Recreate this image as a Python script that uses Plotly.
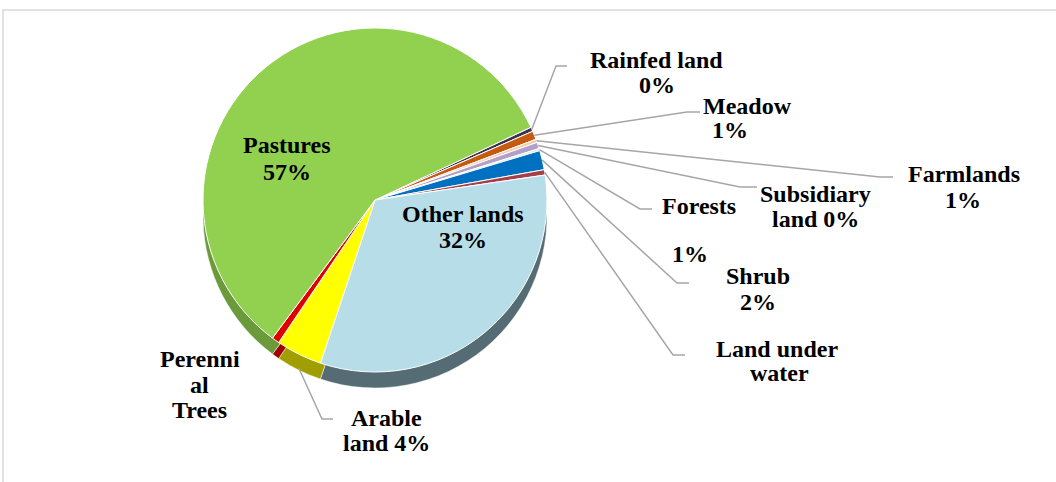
import math
import plotly.graph_objects as go

# ---------------- data ----------------
categories = ["Rainfed land", "Meadow", "Farmlands", "Subsidiary land", "Forests",
              "Shrub", "Land under water", "Other lands", "Arable land",
              "Perennial Trees", "Pastures"]
values = [0.4, 0.8, 0.3, 0.6, 0.2, 1.8, 0.5, 32.3, 4.3, 0.7, 57.6]
top_colors = ["#403151", "#C55A11", "#F8CBAD", "#B1A0C7", "#E7E6E6",
              "#0070C0", "#A5404A", "#B7DEE8", "#FFFF00", "#E00000", "#92D050"]
side_colors = ["#2A2036", "#8A3F0C", "#B08F7A", "#7C708C", "#A2A1A1",
               "#004E86", "#732D34", "#566C75", "#A09E00", "#A00000", "#6A9A3A"]

# label text lines (as shown in the chart)
label_lines = {
    "Rainfed land": ["Rainfed land", "0%"],
    "Meadow": ["Meadow", "1%"],
    "Farmlands": ["Farmlands", "1%"],
    "Subsidiary land": ["Subsidiary", "land 0%"],
    "Forests": ["Forests"],
    "extra": ["1%"],
    "Shrub": ["Shrub", "2%"],
    "Land under water": ["Land under", "water"],
    "Arable land": ["Arable", "land 4%"],
    "Perennial Trees": ["Perenni", "al", "Trees"],
    "Pastures": ["Pastures", "57%"],
    "Other lands": ["Other lands", "32%"],
}

# ---------------- layout / geometry ----------------
W, H = 1056, 482
CX, CY, R = 375, 200, 172
DEPTH = 16
ROT = 65

# label positions: per line (center x, baseline y)
label_pos = {
    "Rainfed land": [(656, 68), (657, 93)],
    "Meadow": [(747, 114), (730, 138)],
    "Farmlands": [(964, 182), (963, 208)],
    "Subsidiary land": [(815, 202), (815, 227)],
    "Forests": [(699, 214)],
    "extra": [(690, 262)],
    "Shrub": [(758, 284), (758, 310)],
    "Land under water": [(777, 357), (779, 381)],
    "Arable land": [(386, 426), (386, 451)],
    "Perennial Trees": [(200, 367), (199, 393), (199, 418)],
    "Pastures": [(287, 153), (287, 180)],
    "Other lands": [(463, 222), (463, 248)],
}
# leader lines: bend point and end x, and whether start on the side wall
leader_pos = {
    "Rainfed land": (556, 66, 567, False),
    "Meadow": (687, 112, 700, False),
    "Farmlands": (880, 177, 893, False),
    "Subsidiary land": (740, 187, 757, False),
    "Forests": (640, 209, 652, False),
    "Shrub": (677, 283, 689, False),
    "Land under water": (673, 355, 685, False),
    "Arable land": (322, 419, 333, True),
}


def pxx(x):
    return x / W


def pyy(y):
    return 1 - y / H


def dom(cy):
    return dict(x=[pxx(CX - R), pxx(CX + R)], y=[pyy(cy + R), pyy(cy - R)])


fig = go.Figure()
# side wall (thickness) of the 3D pie
fig.add_trace(go.Pie(labels=categories, values=values, sort=False, direction="clockwise",
                     rotation=ROT, textinfo="none", hoverinfo="skip",
                     marker=dict(colors=side_colors, line=dict(color="#FFFFFF", width=0.5)),
                     domain=dom(CY + DEPTH), showlegend=False))
# top face
fig.add_trace(go.Pie(labels=categories, values=values, sort=False, direction="clockwise",
                     rotation=ROT, textinfo="none", hoverinfo="label+percent",
                     marker=dict(colors=top_colors, line=dict(color="#FFFFFF", width=1)),
                     domain=dom(CY), showlegend=False))

total = sum(values)
cum = 0.0
mids = {}
for c, v in zip(categories, values):
    a = ROT + (cum + v / 2) / total * 360
    mids[c] = math.radians(a)
    cum += v

shapes = []
for name, (bx, by, ex, side) in leader_pos.items():
    a = mids[name]
    sx = CX + R * math.sin(a)
    sy = CY - R * math.cos(a) + (DEPTH - 2 if side else 0)
    path = "M {:.5f},{:.5f} L {:.5f},{:.5f} L {:.5f},{:.5f}".format(
        pxx(sx), pyy(sy), pxx(bx), pyy(by), pxx(ex), pyy(by))
    shapes.append(dict(type="path", path=path, xref="paper", yref="paper",
                       line=dict(color="#A6A6A6", width=1.5)))

# outer border
shapes.append(dict(type="rect", xref="paper", yref="paper", x0=pxx(3), x1=pxx(W + 10),
                   y0=pyy(H + 10), y1=pyy(10), line=dict(color="#D9D9D9", width=1.5),
                   layer="below"))

annotations = []
for key, lines in label_lines.items():
    for txt, (x, b) in zip(lines, label_pos[key]):
        annotations.append(dict(text=txt, x=pxx(x), y=pyy(b - 8), xref="paper", yref="paper",
                                xanchor="center", yanchor="middle", showarrow=False,
                                font=dict(family="Liberation Serif", size=24, color="#000000",
                                          weight="bold")))

fig.update_layout(width=W, height=H, margin=dict(l=0, r=0, t=0, b=0),
                  paper_bgcolor="#FFFFFF", plot_bgcolor="#FFFFFF",
                  shapes=shapes, annotations=annotations, showlegend=False)

fig.write_html("out.html")
